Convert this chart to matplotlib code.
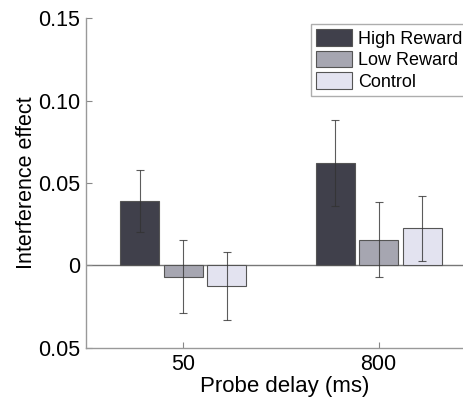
import matplotlib
matplotlib.use("Agg")
import matplotlib.pyplot as plt
import numpy as np

plt.rcParams['font.family'] = ['Liberation Sans', 'DejaVu Sans']

delays = ["50", "800"]
conditions = ["High Reward", "Low Reward", "Control"]
means = {
    "High Reward": [0.039, 0.0623],
    "Low Reward": [-0.0068, 0.0155],
    "Control": [-0.0126, 0.0227],
}
errors = {
    "High Reward": [0.019, 0.026],
    "Low Reward": [0.022, 0.0227],
    "Control": [0.0205, 0.0197],
}
colors = ["#40404b", "#a6a6b1", "#e3e3f0"]
ytick_vals = [-0.05, 0, 0.05, 0.10, 0.15]
ytick_labels = ["0.05", "0", "0.05", "0.10", "0.15"]

fig = plt.figure(figsize=(4.64, 4.03), dpi=100)
# axes runs to the right edge of the figure (plot is cropped there)
ax = fig.add_axes([0.185, 0.1365, 0.815, 0.8188])

x = np.arange(1, len(delays) + 1)
width = 0.2
step = 0.223
for i, cond in enumerate(conditions):
    pos = x + (i - 1) * step
    ax.bar(pos, means[cond], width, color=colors[i], edgecolor="#555555",
           linewidth=0.8, label=cond, zorder=2)
    ax.errorbar(pos, means[cond], yerr=errors[cond], fmt="none",
                ecolor="#333333", elinewidth=0.8, capsize=3, capthick=0.8,
                alpha=0.8, zorder=3)

ax.axhline(0, color="#777777", linewidth=1, zorder=1)
ax.set_xlim(0.5, 2.438)
ax.set_ylim(-0.05, 0.15)
ax.set_xticks(x)
ax.set_xticklabels(delays)
ax.set_yticks(ytick_vals)
ax.set_yticklabels(ytick_labels)
ax.tick_params(axis="both", direction="in", length=4, color="#888888",
               labelsize=15.5, pad=4)
for s in ["top", "right"]:
    ax.spines[s].set_visible(False)
for s in ["left", "bottom"]:
    ax.spines[s].set_color("#999999")
    ax.spines[s].set_linewidth(1)

ax.set_xlabel("Probe delay (ms)", fontsize=16, labelpad=1)
ax.xaxis.set_label_coords(0.525, -0.085)
ax.set_ylabel("Interference effect", fontsize=15.5, labelpad=1)

leg = ax.legend(loc="upper left", bbox_to_anchor=(0.595, 0.982), fontsize=13,
                frameon=True, fancybox=False, handlelength=2.0,
                handleheight=1.0, handletextpad=0.3, borderpad=0.3,
                labelspacing=0.18, borderaxespad=0)
leg.get_frame().set_edgecolor("#999999")
leg.get_frame().set_linewidth(1)

fig.savefig("out.png", dpi=100)
